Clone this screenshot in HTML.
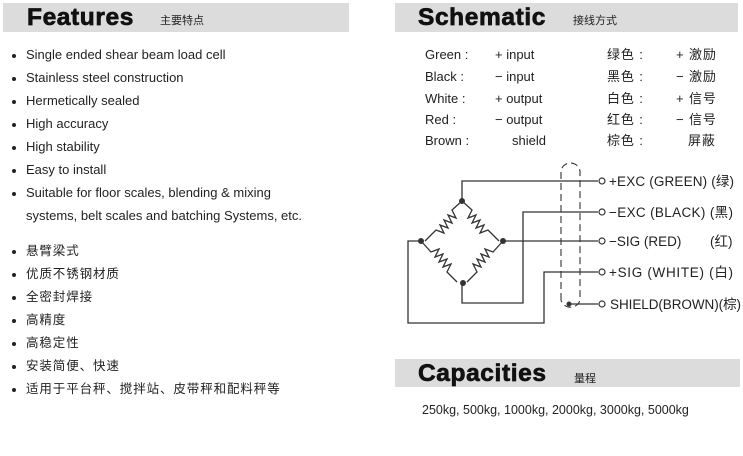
<!DOCTYPE html>
<html><head><meta charset="utf-8"><style>
body{margin:0;width:743px;height:456px;background:#fff;position:relative;overflow:hidden;font-family:"Liberation Sans","Noto Sans CJK SC",sans-serif;color:#222}
.a{position:absolute;white-space:nowrap}
.bar{position:absolute;background:#dcdcdc}
.h{position:absolute;font-weight:900;font-family:"Liberation Sans",sans-serif;color:#111;letter-spacing:0.6px;-webkit-text-stroke:0.7px #111}
.s{position:absolute;font-size:11px;color:#222}
.li{position:absolute;left:26px;font-size:13px;line-height:16px}
.li:before{content:"";position:absolute;left:-14px;top:7px;width:4px;height:4px;border-radius:50%;background:#222}
.cn{font-size:12.5px;letter-spacing:0.9px}
.t{position:absolute;font-size:13px;line-height:16px}
</style></head><body>
<div class="bar" style="left:3px;top:3px;width:346px;height:29px"></div>
<div class="h" style="left:27px;top:3px;font-size:24.5px;line-height:30px">Features</div>
<div class="s" style="left:160px;top:12px">主要特点</div>
<div class="bar" style="left:395px;top:3px;width:343px;height:29px"></div>
<div class="h" style="left:418px;top:3px;font-size:24.5px;line-height:30px">Schematic</div>
<div class="s" style="left:573px;top:12px">接线方式</div>
<div class="bar" style="left:395px;top:359px;width:345px;height:28px"></div>
<div class="h" style="left:418px;top:359px;font-size:24.5px;line-height:30px">Capacities</div>
<div class="s" style="left:574px;top:370px">量程</div>

<div class="li" style="top:47px">Single ended shear beam load cell</div>
<div class="li" style="top:70px">Stainless steel construction</div>
<div class="li" style="top:93px">Hermetically sealed</div>
<div class="li" style="top:116px">High accuracy</div>
<div class="li" style="top:139px">High stability</div>
<div class="li" style="top:162px">Easy to install</div>
<div class="li" style="top:185px">Suitable for floor scales, blending &amp; mixing</div>
<div class="t" style="left:26px;top:208px">systems, belt scales and batching Systems, etc.</div>
<div class="li cn" style="top:243px">悬臂梁式</div>
<div class="li cn" style="top:266px">优质不锈钢材质</div>
<div class="li cn" style="top:289px">全密封焊接</div>
<div class="li cn" style="top:312px">高精度</div>
<div class="li cn" style="top:335px">高稳定性</div>
<div class="li cn" style="top:358px">安装简便、快速</div>
<div class="li cn" style="top:381px">适用于平台秤、搅拌站、皮带秤和配料秤等</div>

<div class="t" style="left:425px;top:47px">Green :</div><div class="t" style="left:495px;top:47px">+ input</div><div class="t cn" style="left:607px;top:47px">绿色 :</div><div class="t cn" style="left:676px;top:47px">+ 激励</div>
<div class="t" style="left:425px;top:69px">Black :</div><div class="t" style="left:495px;top:69px">− input</div><div class="t cn" style="left:607px;top:69px">黑色 :</div><div class="t cn" style="left:676px;top:69px">− 激励</div>
<div class="t" style="left:425px;top:91px">White :</div><div class="t" style="left:495px;top:91px">+ output</div><div class="t cn" style="left:607px;top:91px">白色 :</div><div class="t cn" style="left:676px;top:91px">+ 信号</div>
<div class="t" style="left:425px;top:112px">Red :</div><div class="t" style="left:495px;top:112px">− output</div><div class="t cn" style="left:607px;top:112px">红色 :</div><div class="t cn" style="left:676px;top:112px">− 信号</div>
<div class="t" style="left:425px;top:133px">Brown :</div><div class="t" style="left:512px;top:133px">shield</div><div class="t cn" style="left:607px;top:133px">棕色 :</div><div class="t cn" style="left:688px;top:133px">屏蔽</div>

<svg class="a" style="left:0;top:0" width="743" height="456">
<g fill="none" stroke="#333" stroke-width="1.3">
<path d="M462 201V181H598"/>
<path d="M503 241H598"/>
<path d="M462 283V303H523V212H598"/>
<path d="M421 241H408V323H544V272H598"/>
<path d="M569 304H598"/>
<path d="M462 201L472 210l-4 8 8-3-4 8 8-3-4 8 8-3-4 8 8-3 11 11"/>
<path d="M462 201L452 210l4 8-8-3 4 8-8-3 4 8-8-3 4 8-8-3-11 11"/>
<path d="M421 241L431 252l8-3-4 8 8-3-4 8 8-3-4 8 8-3-4 8 10 10"/>
<path d="M503 241L493 252l-8-3 4 8-8-3 4 8-8-3 4 8-8-3 4 8-10 10"/>
<path d="M561 300V172a9.5 9 0 0 1 19 0V296a9.5 9 0 0 1-19 4" stroke-dasharray="7 4" stroke-width="1.1"/>
</g>
<g fill="#333"><circle cx="462" cy="201" r="3"/><circle cx="421" cy="241" r="3"/><circle cx="503" cy="241" r="3"/><circle cx="463" cy="283" r="3"/><circle cx="569" cy="304" r="2.5"/></g>
<g fill="#fff" stroke="#333" stroke-width="1.2"><circle cx="602" cy="181" r="3"/><circle cx="602" cy="212" r="3"/><circle cx="602" cy="241" r="3"/><circle cx="602" cy="272" r="3"/><circle cx="602" cy="304" r="3"/></g>
<g font-family="Liberation Sans,Noto Sans CJK SC,sans-serif" font-size="13.5" fill="#222">
<text x="609" y="186" textLength="125">+EXC (GREEN) (绿)</text>
<text x="609" y="217" textLength="124">−EXC (BLACK) (黑)</text>
<text x="609" y="246">−SIG  (RED)</text><text x="710" y="246">(红)</text>
<text x="609" y="277" textLength="124">+SIG  (WHITE) (白)</text>
<text x="610" y="309" textLength="131">SHIELD(BROWN)(棕)</text>
</g>
</svg>
<div class="t" style="left:422px;top:402px;font-size:12.5px">250kg, 500kg, 1000kg, 2000kg, 3000kg, 5000kg</div>
</body></html>
